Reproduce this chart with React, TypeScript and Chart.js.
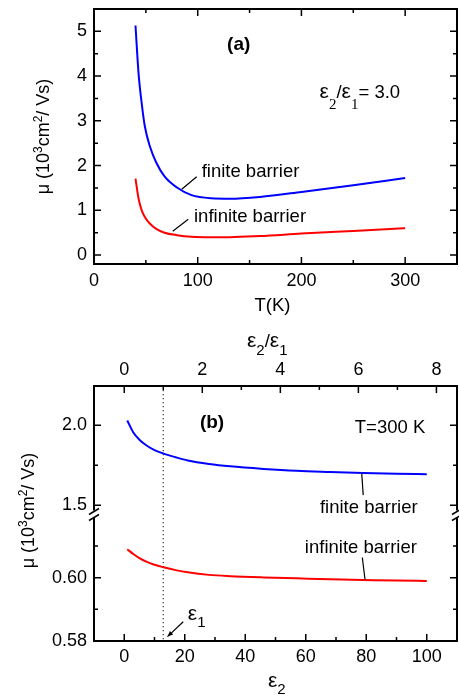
import React, { useEffect, useRef } from 'react';
import { Chart, registerables } from 'chart.js';

Chart.register(...registerables);

const SANS = '"Liberation Sans", Arial, Helvetica, sans-serif';
const SERIF = '"Liberation Serif", "Times New Roman", serif';
const fnt = (size: number, weight = 'normal', fam = SANS) => `${weight} ${size}px ${fam}`;

// ---------- Panel (a): mobility vs temperature ----------
const tempK = [40, 43, 46, 49, 54, 60, 68, 80, 94, 113, 131, 160, 200, 250, 300];
const muFiniteA = [5.13, 4.05, 3.39, 2.88, 2.42, 2.07, 1.76, 1.51, 1.34, 1.27, 1.26, 1.30, 1.41, 1.56, 1.72];
const muInfiniteA = [1.71, 1.26, 1.0, 0.85, 0.70, 0.585, 0.50, 0.445, 0.41, 0.40, 0.40, 0.425, 0.48, 0.54, 0.60];
const aXRange = [0, 350];
const aYRange = [-0.2, 5.5];
const aXTicks = [0, 100, 200, 300];
const aXMinor = [50, 150, 250];
const aYTicks = [0, 1, 2, 3, 4, 5];
const aYMinor = [0.5, 1.5, 2.5, 3.5, 4.5];

// ---------- Panel (b): mobility vs eps2 (T = 300 K) ----------
const EPS1 = 12.9;
const eps2 = [1, 3, 5, 7.5, 10, 13, 17, 21, 28, 35, 46, 57, 68, 79, 90, 100];
const muFiniteB = [2.03, 1.955, 1.91, 1.872, 1.845, 1.823, 1.80, 1.78, 1.758, 1.743, 1.727, 1.715, 1.708, 1.702, 1.697, 1.694];
const muInfiniteB = [0.609, 0.6075, 0.6062, 0.605, 0.6041, 0.6033, 0.6024, 0.6017, 0.6009, 0.6005, 0.6001, 0.5998, 0.5995, 0.5993, 0.5991, 0.599];
const bXRange = [-10, 110];
const bXTicks = [0, 20, 40, 60, 80, 100];
const bXMinor = [10, 30, 50, 70, 90];
const ratioTicks = [0, 2, 4, 6, 8];
const ratioMinor = [1, 3, 5, 7];
const upperRange = [1.448, 2.246];
const upperTicks = [1.5, 2.0];
const upperLabels = ['1.5', '2.0'];
const upperMinor = [1.75];
const lowerRange = [0.58, 0.6203];
const lowerTicks = [0.58, 0.6];
const lowerLabels = ['0.58', '0.60'];
const lowerMinor = [0.59, 0.61];

const MAJOR = 7;
const MINOR = 4;

type Seg = { t: string; f: string; dy?: number };

function drawRich(ctx: CanvasRenderingContext2D, x: number, y: number, segs: Seg[], align = 'left') {
  let w = 0;
  for (const s of segs) {
    ctx.font = s.f;
    w += ctx.measureText(s.t).width;
  }
  let cx = align === 'left' ? x : align === 'center' ? x - w / 2 : x - w;
  ctx.textAlign = 'left';
  ctx.textBaseline = 'alphabetic';
  for (const s of segs) {
    ctx.font = s.f;
    ctx.fillText(s.t, cx, y + (s.dy || 0));
    cx += ctx.measureText(s.t).width;
  }
}

function hTicks(ctx: CanvasRenderingContext2D, scale: any, vals: number[], y: number, dir: number, len: number) {
  ctx.beginPath();
  for (const v of vals) {
    const p = scale.getPixelForValue(v);
    ctx.moveTo(p, y);
    ctx.lineTo(p, y + dir * len);
  }
  ctx.stroke();
}

function vTicks(ctx: CanvasRenderingContext2D, scale: any, vals: number[], left: number, right: number, len: number) {
  ctx.beginPath();
  for (const v of vals) {
    const p = scale.getPixelForValue(v);
    ctx.moveTo(left, p);
    ctx.lineTo(left + len, p);
    ctx.moveTo(right, p);
    ctx.lineTo(right - len, p);
  }
  ctx.stroke();
}

function seg(ctx: CanvasRenderingContext2D, x1: number, y1: number, x2: number, y2: number) {
  ctx.beginPath();
  ctx.moveTo(x1, y1);
  ctx.lineTo(x2, y2);
  ctx.stroke();
}

const muTitle: Seg[] = [
  { t: 'μ (10', f: fnt(18) },
  { t: '3', f: fnt(12), dy: -7 },
  { t: 'cm', f: fnt(18) },
  { t: '2', f: fnt(12), dy: -7 },
  { t: '/ Vs)', f: fnt(18) },
];

const panelAPlugin = {
  id: 'panelA',
  afterDraw(chart: any) {
    const { ctx, chartArea: a, scales } = chart;
    const x = scales.x;
    const y = scales.y;
    ctx.save();
    ctx.strokeStyle = '#000';
    ctx.fillStyle = '#000';
    ctx.lineWidth = 2;
    ctx.strokeRect(a.left, a.top, a.right - a.left, a.bottom - a.top);
    ctx.lineWidth = 1.5;
    hTicks(ctx, x, aXTicks, a.bottom, -1, MAJOR);
    hTicks(ctx, x, aXTicks, a.top, 1, MAJOR);
    hTicks(ctx, x, aXMinor, a.bottom, -1, MINOR);
    hTicks(ctx, x, aXMinor, a.top, 1, MINOR);
    vTicks(ctx, y, aYTicks, a.left, a.right, MAJOR);
    vTicks(ctx, y, aYMinor, a.left, a.right, MINOR);

    // leader lines
    ctx.lineWidth = 1.2;
    seg(ctx, x.getPixelForValue(84.6), y.getPixelForValue(1.47), x.getPixelForValue(99), y.getPixelForValue(1.75));
    seg(ctx, x.getPixelForValue(75.9), y.getPixelForValue(0.53), x.getPixelForValue(90.9), y.getPixelForValue(0.8));

    // annotations
    drawRich(ctx, x.getPixelForValue(139.5), y.getPixelForValue(4.58), [{ t: '(a)', f: fnt(19, 'bold') }], 'center');
    drawRich(ctx, x.getPixelForValue(217.5), y.getPixelForValue(3.5), [
      { t: 'ε', f: fnt(21) },
      { t: '2', f: fnt(15, 'normal', SERIF), dy: 11 },
      { t: '/', f: fnt(18.5) },
      { t: 'ε', f: fnt(21) },
      { t: '1', f: fnt(15, 'normal', SERIF), dy: 11 },
      { t: '= 3.0', f: fnt(18.5) },
    ]);
    drawRich(ctx, x.getPixelForValue(103.8), y.getPixelForValue(1.74), [{ t: 'finite barrier', f: fnt(18.5) }]);
    drawRich(ctx, x.getPixelForValue(96.4), y.getPixelForValue(0.75), [{ t: 'infinite barrier', f: fnt(18.5) }]);

    // axis titles
    drawRich(ctx, (a.left + a.right) / 2 - 3, 311, [{ t: 'T(K)', f: fnt(18.5) }], 'center');
    ctx.save();
    ctx.translate(49, (a.top + a.bottom) / 2);
    ctx.rotate(-Math.PI / 2);
    drawRich(ctx, 0, 0, muTitle, 'center');
    ctx.restore();
    ctx.restore();
  },
};

const panelBPlugin = {
  id: 'panelB',
  beforeDatasetsDraw(chart: any) {
    const { ctx, chartArea: a, scales } = chart;
    const px = scales.x.getPixelForValue(EPS1);
    ctx.save();
    ctx.strokeStyle = '#333';
    ctx.lineWidth = 1.2;
    ctx.setLineDash([1.2, 2.8]);
    seg(ctx, px, a.top, px, a.bottom);
    ctx.restore();
  },
  afterDraw(chart: any) {
    const { ctx, chartArea: a, scales } = chart;
    const x = scales.x;
    const xr = scales.x2;
    const yu = scales.yHigh;
    const yl = scales.yLow;
    const yb = yu.bottom;
    ctx.save();
    ctx.strokeStyle = '#000';
    ctx.fillStyle = '#000';
    ctx.lineWidth = 2;
    // frame with break in side axes
    ctx.beginPath();
    ctx.moveTo(a.left, yb - 3);
    ctx.lineTo(a.left, a.top);
    ctx.lineTo(a.right, a.top);
    ctx.lineTo(a.right, yb - 3);
    ctx.moveTo(a.left, yb + 4);
    ctx.lineTo(a.left, a.bottom);
    ctx.lineTo(a.right, a.bottom);
    ctx.lineTo(a.right, yb + 4);
    ctx.stroke();
    ctx.lineWidth = 1.5;
    for (const sx of [a.left, a.right]) {
      seg(ctx, sx - 5, yb + 1, sx + 5, yb - 5);
      seg(ctx, sx - 5, yb + 7, sx + 5, yb + 1);
    }
    hTicks(ctx, x, bXTicks, a.bottom, -1, MAJOR);
    hTicks(ctx, x, bXMinor, a.bottom, -1, MINOR);
    hTicks(ctx, xr, ratioTicks, a.top, 1, MAJOR);
    hTicks(ctx, xr, ratioMinor, a.top, 1, MINOR);
    vTicks(ctx, yu, upperTicks, a.left, a.right, MAJOR);
    vTicks(ctx, yu, upperMinor, a.left, a.right, MINOR);
    vTicks(ctx, yl, lowerTicks, a.left, a.right, MAJOR);
    vTicks(ctx, yl, lowerMinor, a.left, a.right, MINOR);

    // leader lines
    ctx.lineWidth = 1.2;
    seg(ctx, x.getPixelForValue(78.5), yu.getPixelForValue(1.702), x.getPixelForValue(79.0), yu.getPixelForValue(1.563));
    seg(ctx, x.getPixelForValue(78.7), yl.getPixelForValue(0.6064), x.getPixelForValue(79.6), yl.getPixelForValue(0.5994));

    // arrow to eps1
    const ax1 = x.getPixelForValue(19.5);
    const ay1 = yl.getPixelForValue(0.5861);
    const ax2 = x.getPixelForValue(14.3);
    const ay2 = yl.getPixelForValue(0.5814);
    seg(ctx, ax1, ay1, ax2, ay2);
    const ang = Math.atan2(ay2 - ay1, ax2 - ax1);
    ctx.beginPath();
    ctx.moveTo(ax2, ay2);
    ctx.lineTo(ax2 - 6 * Math.cos(ang - 0.4), ay2 - 6 * Math.sin(ang - 0.4));
    ctx.lineTo(ax2 - 6 * Math.cos(ang + 0.4), ay2 - 6 * Math.sin(ang + 0.4));
    ctx.closePath();
    ctx.fill();

    // annotations
    drawRich(ctx, x.getPixelForValue(25), yu.getPixelForValue(1.982), [{ t: '(b)', f: fnt(19, 'bold') }]);
    drawRich(ctx, x.getPixelForValue(99.5), yu.getPixelForValue(1.95), [{ t: 'T=300 K', f: fnt(18.5) }], 'right');
    drawRich(ctx, x.getPixelForValue(64.7), yu.getPixelForValue(1.45), [{ t: 'finite barrier', f: fnt(18.5) }]);
    drawRich(ctx, x.getPixelForValue(59.7), yl.getPixelForValue(0.6079), [{ t: 'infinite barrier', f: fnt(18.5) }]);
    drawRich(ctx, x.getPixelForValue(21), yl.getPixelForValue(0.5866), [
      { t: 'ε', f: fnt(21) },
      { t: '1', f: fnt(15), dy: 7 },
    ]);

    // axis titles
    drawRich(ctx, 247, 27, [
      { t: 'ε', f: fnt(21) },
      { t: '2', f: fnt(15), dy: 8 },
      { t: '/', f: fnt(18.5) },
      { t: 'ε', f: fnt(21) },
      { t: '1', f: fnt(15), dy: 8 },
    ]);
    drawRich(ctx, 268, 367, [
      { t: 'ε', f: fnt(21) },
      { t: '2', f: fnt(15), dy: 7 },
    ]);
    ctx.save();
    ctx.translate(34, (a.top + a.bottom) / 2 - 3);
    ctx.rotate(-Math.PI / 2);
    drawRich(ctx, 0, 0, muTitle, 'center');
    ctx.restore();
    ctx.restore();
  },
};

const tickFont = { size: 18, family: SANS };

function setTicks(vals: number[]) {
  return (s: any) => {
    s.ticks = vals.map((v) => ({ value: v }));
  };
}

function fixSize(w: number | null, h: number | null) {
  return (s: any) => {
    if (w !== null) s.width = w;
    if (h !== null) s.height = h;
    s.paddingTop = 0;
    s.paddingBottom = 0;
    s.paddingLeft = 0;
    s.paddingRight = 0;
  };
}

const baseAxis = {
  type: 'linear' as const,
  grid: { display: false, drawTicks: false },
  border: { display: false },
};

export default function App() {
  const refA = useRef<HTMLCanvasElement>(null);
  const refB = useRef<HTMLCanvasElement>(null);

  useEffect(() => {
    const chartA = new Chart(refA.current as HTMLCanvasElement, {
      type: 'line',
      data: {
        datasets: [
          {
            label: 'finite barrier',
            data: tempK.map((t, i) => ({ x: t, y: muFiniteA[i] })),
            borderColor: '#0000ff',
            borderWidth: 2,
            pointRadius: 0,
            cubicInterpolationMode: 'monotone',
          },
          {
            label: 'infinite barrier',
            data: tempK.map((t, i) => ({ x: t, y: muInfiniteA[i] })),
            borderColor: '#ff0000',
            borderWidth: 2,
            pointRadius: 0,
            cubicInterpolationMode: 'monotone',
          },
        ],
      },
      options: {
        animation: false,
        responsive: false,
        maintainAspectRatio: false,
        layout: { padding: { left: 0, right: 2, top: 9, bottom: 0 } },
        plugins: { legend: { display: false }, tooltip: { enabled: false } },
        scales: {
          x: {
            ...baseAxis,
            position: 'bottom',
            min: aXRange[0],
            max: aXRange[1],
            ticks: { font: tickFont, color: '#000', padding: 6, maxRotation: 0, autoSkip: false },
            afterBuildTicks: setTicks(aXTicks),
            afterFit: fixSize(null, 56),
          },
          y: {
            ...baseAxis,
            position: 'left',
            min: aYRange[0],
            max: aYRange[1],
            ticks: { font: tickFont, color: '#000', padding: 7, autoSkip: false },
            afterBuildTicks: setTicks(aYTicks),
            afterFit: fixSize(94, null),
          },
        },
      } as any,
      plugins: [panelAPlugin],
    });

    const chartB = new Chart(refB.current as HTMLCanvasElement, {
      type: 'line',
      data: {
        datasets: [
          {
            label: 'finite barrier',
            data: eps2.map((e, i) => ({ x: e, y: muFiniteB[i] })),
            borderColor: '#0000ff',
            borderWidth: 2,
            pointRadius: 0,
            cubicInterpolationMode: 'monotone',
            xAxisID: 'x',
            yAxisID: 'yHigh',
          },
          {
            label: 'infinite barrier',
            data: eps2.map((e, i) => ({ x: e, y: muInfiniteB[i] })),
            borderColor: '#ff0000',
            borderWidth: 2,
            pointRadius: 0,
            cubicInterpolationMode: 'monotone',
            xAxisID: 'x',
            yAxisID: 'yLow',
          },
        ],
      },
      options: {
        animation: false,
        responsive: false,
        maintainAspectRatio: false,
        layout: { padding: { left: 0, right: 2, top: 0, bottom: 0 } },
        plugins: { legend: { display: false }, tooltip: { enabled: false } },
        scales: {
          x: {
            ...baseAxis,
            position: 'bottom',
            min: bXRange[0],
            max: bXRange[1],
            ticks: { font: tickFont, color: '#000', padding: 5, maxRotation: 0, autoSkip: false },
            afterBuildTicks: setTicks(bXTicks),
            afterFit: fixSize(null, 54),
          },
          x2: {
            ...baseAxis,
            position: 'top',
            min: bXRange[0] / EPS1,
            max: bXRange[1] / EPS1,
            ticks: { font: tickFont, color: '#000', padding: 5, maxRotation: 0, autoSkip: false },
            afterBuildTicks: setTicks(ratioTicks),
            afterFit: fixSize(null, 66),
          },
          yLow: {
            ...baseAxis,
            position: 'left',
            stack: 'mu',
            stackWeight: 1,
            min: lowerRange[0],
            max: lowerRange[1],
            ticks: {
              font: tickFont,
              color: '#000',
              padding: 7,
              autoSkip: false,
              callback: (_v: any, i: number) => lowerLabels[i],
            },
            afterBuildTicks: setTicks(lowerTicks),
            afterFit: fixSize(94, null),
          },
          yHigh: {
            ...baseAxis,
            position: 'left',
            stack: 'mu',
            stackWeight: 1,
            min: upperRange[0],
            max: upperRange[1],
            ticks: {
              font: tickFont,
              color: '#000',
              padding: 7,
              autoSkip: false,
              callback: (_v: any, i: number) => upperLabels[i],
            },
            afterBuildTicks: setTicks(upperTicks),
            afterFit: fixSize(94, null),
          },
        },
      } as any,
      plugins: [panelBPlugin],
    });

    return () => {
      chartA.destroy();
      chartB.destroy();
    };
  }, []);

  return (
    <div style={{ position: 'absolute', left: 0, top: 0, width: 459, height: 695, background: '#fff' }}>
      <canvas ref={refA} width={459} height={320} style={{ display: 'block' }} />
      <canvas ref={refB} width={459} height={375} style={{ display: 'block' }} />
    </div>
  );
}
